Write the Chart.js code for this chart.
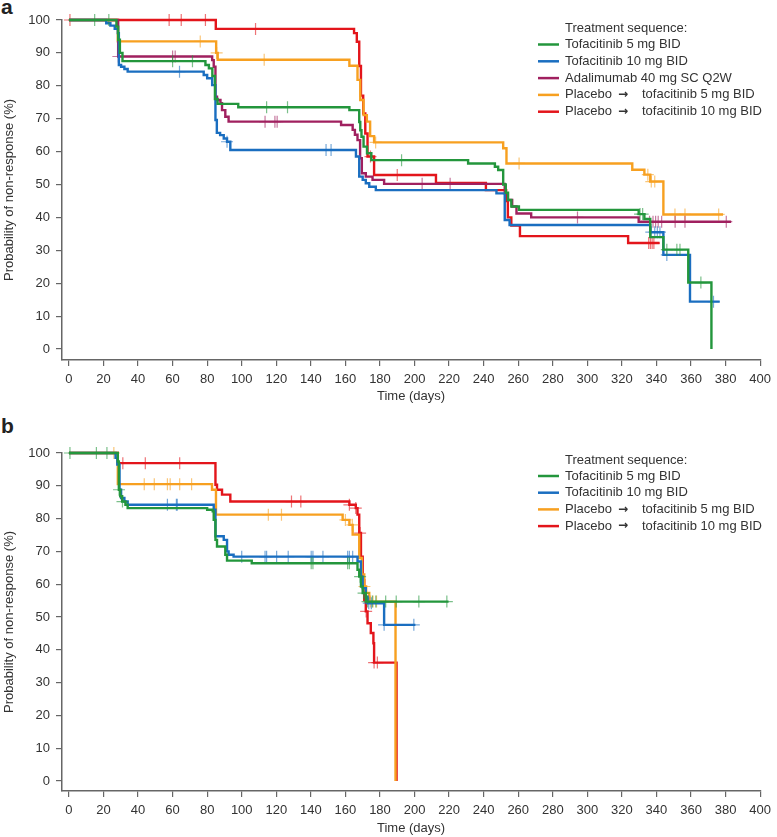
<!DOCTYPE html>
<html lang="en">
<head>
<meta charset="UTF-8">
<title>Probability of non-response</title>
<script src="https://cdn.jsdelivr.net/npm/chart.js"></script>
<style>
    body {
        margin: 0;
        background: #fff;
        width: 777px;
        height: 837px;
        position: relative;
        overflow: hidden;
        font-family: "Liberation Sans", Arial, sans-serif;
    }

    .panel-tag {
        position: absolute;
        left: 1px;
        font-size: 21px;
        font-weight: bold;
        line-height: 21px;
        color: #222;
    }

    .chart-box {
        position: absolute;
        left: 0;
    }
</style>
</head>
<body>
<div class="panel-tag" style="top:-4px">a</div>
<div class="chart-box" style="top:0"><canvas id="chartA" width="777" height="405"></canvas></div>
<div class="panel-tag" style="top:415px">b</div>
<div class="chart-box" style="top:420px"><canvas id="chartB" width="777" height="417"></canvas></div>

<script>
// axis ticks
const xTicks = [0, 20, 40, 60, 80, 100, 120, 140, 160, 180, 200, 220, 240, 260, 280, 300, 320, 340, 360, 380, 400];
const yTicks = [0, 10, 20, 30, 40, 50, 60, 70, 80, 90, 100];

// legend labels
const seriesA = ['Tofacitinib 5 mg BID', 'Tofacitinib 10 mg BID', 'Adalimumab 40 mg SC Q2W',
    'Placebo \u2192 tofacitinib 5 mg BID', 'Placebo \u2192 tofacitinib 10 mg BID'];
const seriesB = ['Tofacitinib 5 mg BID', 'Tofacitinib 10 mg BID',
    'Placebo \u2192 tofacitinib 5 mg BID', 'Placebo \u2192 tofacitinib 10 mg BID'];

// ---- panel a: step times (days), probability after each step (%), censored times ----
const aTofa5Days = [0, 27.5, 28.5, 29.5, 31, 79, 81, 83, 84.5, 86, 98, 162.3, 168, 168.6, 169.3, 170.5, 172.5, 175, 231, 246.5, 248.4, 251.3, 252.8, 254.1, 256, 260.4, 329.7, 333, 336.4, 344, 358.4, 371.8];
const aTofa5Prob = [100, 98, 94, 90, 87.5, 86.3, 85.3, 83, 76, 74.5, 73.5, 72.6, 69, 66.5, 64.5, 61.5, 59.5, 57.4, 56.4, 55.4, 54.4, 50, 47.5, 45.3, 43.3, 42.3, 41, 39.5, 34, 30.2, 20.2, 0];
const aTofa5Censor = [14.9, 23.1, 60, 71.5, 114.4, 126.5, 192.5, 330.5, 332, 346, 351.8, 353.6, 365.7];

const aTofa10Days = [0, 21.6, 24, 26.5, 28.3, 28.9, 30.2, 32.1, 34, 78, 80, 82.9, 84.8, 85.6, 87.5, 89.6, 91.5, 93.4, 166.1, 168, 170, 171.8, 173.8, 177.6, 247.4, 252.2, 255, 336.4, 344, 359.4, 376.6];
const aTofa10Prob = [100, 99, 98.3, 97.3, 96, 86.3, 85.8, 85.1, 84.3, 83.3, 82.3, 80.2, 69.6, 65.7, 65, 64, 63, 60.5, 58.5, 52.4, 51.4, 50.4, 49.3, 48.3, 47.3, 39.2, 37.7, 35.5, 28.6, 14.4, 14.4];
const aTofa10Censor = [64, 91.5, 148.8, 151.7, 337, 339, 340.5, 342, 346, 373];

const aAdaDays = [0, 28.5, 82.9, 83.8, 84.8, 85.7, 87.7, 88.6, 90.5, 92.4, 157.5, 164.2, 165.5, 167, 168.5, 169.5, 171.8, 175.7, 182.4, 252.2, 254, 256.5, 259, 267.5, 329.7, 383.2];
const aAdaProb = [100, 88.9, 87.8, 85.8, 76.7, 75.7, 74.7, 72.6, 70.6, 69.1, 68.1, 66.6, 65.1, 63.5, 58, 53.4, 52.4, 51.4, 50.2, 47.3, 45.3, 43.3, 41.2, 40, 38.7, 38.7];
const aAdaCensor = [28.6, 60, 61.5, 113.5, 119.2, 120.5, 204.4, 220.6, 294.3, 336, 338, 339.5, 341, 343, 350.8, 356.5, 380.4];

const aPbo5Days = [0, 28.3, 85.2, 86.1, 162.3, 167, 168.6, 170.5, 172.4, 174.3, 176.6, 251.3, 253.2, 326, 333, 336.4, 344, 378.5];
const aPbo5Prob = [100, 93.5, 90, 87.9, 86.1, 81.8, 75.7, 71.1, 69.1, 64.7, 62.8, 61, 56.4, 54.5, 53, 50.9, 40.9, 40.9];
const aPbo5Censor = [76, 85.5, 113, 177.5, 260.5, 335, 337, 339, 350.7, 356.5, 376];

const aPbo10Days = [0, 85, 165, 166.6, 168, 169, 170.3, 171.5, 172.8, 176.6, 212.4, 241.3, 253, 254, 256, 261, 323.6, 341.8];
const aPbo10Prob = [100, 97.3, 96, 93.4, 86, 77, 71.6, 65.5, 58.5, 52.9, 50.5, 48.3, 45, 40, 37.5, 34.3, 32.2, 32.2];
const aPbo10Censor = [0.6, 58, 65, 79, 108, 174.5, 190, 335.5, 336.5, 337.5, 338.5];

// ---- panel b ----
const bTofa5Days = [0, 28.3, 28.9, 29.7, 30.8, 32.7, 34, 80, 83.2, 83.8, 84.8, 85.7, 90.5, 91.5, 105.8, 167, 168, 169, 170, 171.8, 219.7];
const bTofa5Prob = [100, 97.4, 88.8, 86.8, 85.2, 84.2, 83.2, 82.7, 82.2, 79.6, 73.5, 71.5, 69, 67.2, 66.4, 64.4, 62.3, 59.3, 57.3, 54.7, 54.7];
const bTofa5Censor = [0.6, 15.9, 22, 29, 31, 140.2, 141.2, 161.3, 162.3, 168.5, 170.5, 172.8, 175.6, 177.6, 183.3, 189.4, 202.5, 218.7];

const bTofa10Days = [0, 27, 28, 29.3, 30.2, 32.1, 34, 83.8, 84.8, 89.6, 91.5, 92.4, 95.3, 167, 169, 170, 171.8, 172.8, 182.4, 200.5];
const bTofa10Prob = [100, 98.5, 96.5, 88.8, 86.3, 85.2, 84.2, 82.7, 74.6, 73.5, 70, 69, 68.4, 66.9, 62.3, 58.8, 56.2, 54.2, 47.6, 47.6];
const bTofa10Censor = [57, 62.2, 62.7, 100, 113.5, 114.4, 120.2, 126.9, 140.2, 141.2, 147, 161.3, 162.3, 164.2, 173.5, 175, 182.4, 199.6];

const bPbo5Days = [0, 28.3, 82.8, 85.1, 158.4, 162.3, 164.2, 168, 169.5, 170.9, 172, 173.8, 189];
const bPbo5Prob = [100, 90.5, 88.8, 81.2, 79.6, 78.1, 75.1, 68, 63, 59.3, 57.3, 54.7, 0];
const bPbo5Censor = [26, 43.6, 49.4, 57, 58.6, 64.1, 71, 115.4, 123, 160, 164, 171, 174.5, 176, 178];

const bPbo10Days = [0, 28.3, 84.8, 85.7, 88.6, 93.4, 162.3, 166, 167, 168, 169, 170, 170.9, 171.8, 172.8, 174.7, 176.2, 176.6, 189.6];
const bPbo10Prob = [100, 96.9, 90.3, 88.8, 87.3, 85.2, 84.2, 83.2, 81.2, 75.6, 68.4, 61.3, 55.2, 51.7, 48.1, 45.1, 42, 36.1, 0];
const bPbo10Censor = [31.2, 44.2, 64.1, 128.8, 134.2, 162.3, 166, 168.5, 172, 176.6, 178.5];

const colorsA = ['#23963c', '#1a6ec0', '#a0205f', '#f7a020', '#e3151b'];
const colorsB = ['#23963c', '#1a6ec0', '#f7a020', '#e3151b'];

const font = { family: '"Liberation Sans", Arial, sans-serif', size: 13 };

function stepPoints(days, prob) {
    return days.map((d, i) => ({ x: d, y: prob[i] }));
}

// y of a censored mark = curve value at that time
function censorPoints(days, prob, marks) {
    return marks.map(t => {
        let y = prob[0];
        for (let i = 0; i < days.length; i++) {
            if (days[i] <= t) y = prob[i];
        }
        return { x: t, y: y };
    });
}

function buildDatasets(curves, colors) {
    const sets = [];
    curves.forEach((c, i) => {
        sets.push({
            data: stepPoints(c[0], c[1]),
            borderColor: colors[i],
            borderWidth: 2.4,
            stepped: true,
            pointRadius: 0,
            fill: false,
            clip: false,
            order: i
        });
        sets.push({
            data: censorPoints(c[0], c[1], c[2]),
            showLine: false,
            pointStyle: 'cross',
            pointRadius: 6,
            pointBorderWidth: 1.2,
            pointBorderColor: colors[i] + '99',
            pointBackgroundColor: colors[i] + '99',
            clip: false,
            order: i
        });
    });
    return sets;
}

// draws the legend inside the plot area
const kmLegend = {
    id: 'kmLegend',
    afterDraw(chart, args, opts) {
        const ctx = chart.ctx;
        const txtFont = '13px "Liberation Sans", Arial, sans-serif';
        ctx.save();
        ctx.font = txtFont;
        ctx.fillStyle = '#333';
        ctx.textBaseline = 'middle';
        ctx.textAlign = 'left';
        ctx.fillText(opts.title, opts.textX, opts.titleY);
        opts.labels.forEach((lab, i) => {
            const y = opts.firstY + i * opts.rowGap;
            ctx.strokeStyle = opts.colors[i];
            ctx.lineWidth = 2.5;
            ctx.beginPath();
            ctx.moveTo(opts.lineX0, y);
            ctx.lineTo(opts.lineX1, y);
            ctx.stroke();
            const parts = lab.split(' \u2192 ');
            if (parts.length === 2) {
                ctx.fillText(parts[0], opts.textX, y);
                const w = ctx.measureText(parts[0]).width;
                ctx.font = 'bold 12px "DejaVu Sans", sans-serif';
                ctx.fillText('\u2192', opts.textX + w + 6, y);
                ctx.font = txtFont;
                ctx.fillText(parts[1], opts.textX + w + 30, y);
            } else {
                ctx.fillText(lab, opts.textX, y);
            }
        });
        ctx.restore();
    }
};

function makeScales(yMin, xBoxHeight) {
    return {
        x: {
            type: 'linear',
            min: -4,
            max: 400,
            afterBuildTicks: s => { s.ticks = xTicks.map(v => ({ value: v })); },
            afterFit: s => { s.height = xBoxHeight; },
            grid: { drawOnChartArea: false, drawTicks: true, tickLength: 6, color: '#666', lineWidth: 1.2 },
            border: { color: '#666', width: 1.5 },
            ticks: { color: '#333', font: font, padding: 6, maxRotation: 0, autoSkip: false },
            title: { display: true, text: 'Time (days)', color: '#333', font: font, padding: { top: 0, bottom: 1 } }
        },
        y: {
            type: 'linear',
            min: yMin,
            max: 100,
            afterBuildTicks: s => { s.ticks = yTicks.map(v => ({ value: v })); },
            afterFit: s => { s.width = 62; },
            grid: { drawOnChartArea: false, drawTicks: true, tickLength: 6, color: '#666', lineWidth: 1.2 },
            border: { color: '#666', width: 1.5 },
            ticks: { color: '#333', font: font, padding: 6 },
            title: { display: true, text: 'Probability of non-response (%)', color: '#333', font: font, padding: { top: 2, bottom: 0 } }
        }
    };
}

function makeChart(id, datasets, yMin, xBoxHeight, padTop, legendOpts) {
    return new Chart(document.getElementById(id), {
        type: 'line',
        data: { datasets: datasets },
        options: {
            responsive: false,
            animation: false,
            layout: { padding: { top: padTop, right: 11, bottom: 0, left: 0 } },
            scales: makeScales(yMin, xBoxHeight),
            plugins: {
                legend: { display: false },
                tooltip: { enabled: false },
                kmLegend: legendOpts
            }
        },
        plugins: [kmLegend]
    });
}

const curvesA = [
    [aTofa5Days, aTofa5Prob, aTofa5Censor],
    [aTofa10Days, aTofa10Prob, aTofa10Censor],
    [aAdaDays, aAdaProb, aAdaCensor],
    [aPbo5Days, aPbo5Prob, aPbo5Censor],
    [aPbo10Days, aPbo10Prob, aPbo10Censor]
];
const curvesB = [
    [bTofa5Days, bTofa5Prob, bTofa5Censor],
    [bTofa10Days, bTofa10Prob, bTofa10Censor],
    [bPbo5Days, bPbo5Prob, bPbo5Censor],
    [bPbo10Days, bPbo10Prob, bPbo10Censor]
];

makeChart('chartA', buildDatasets(curvesA, colorsA), -3.34, 45, 20, {
    title: 'Treatment sequence:', labels: seriesA, colors: colorsA,
    textX: 565, lineX0: 538, lineX1: 559, titleY: 28.5, firstY: 44.5, rowGap: 16.8
});
makeChart('chartB', buildDatasets(curvesB, colorsB), -3.05, 46, 33, {
    title: 'Treatment sequence:', labels: seriesB, colors: colorsB,
    textX: 565, lineX0: 538, lineX1: 559, titleY: 40, firstY: 56, rowGap: 16.7
});
</script>
</body>
</html>
